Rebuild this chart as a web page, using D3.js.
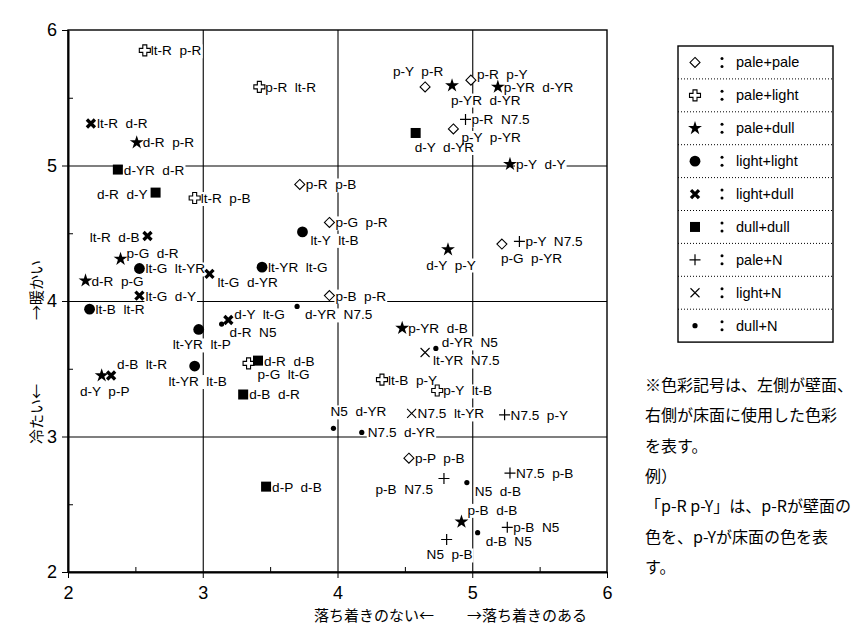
<!DOCTYPE html>
<html lang="ja">
<head>
  <meta charset="UTF-8">
  <title>配色の印象評価</title>
  <script src="https://d3js.org/d3.v7.min.js"></script>
  <style>
    body { margin: 0; background: #fff; }
    svg { display: block; }
    .lbl { font-family: "Liberation Sans", Arial, sans-serif; font-size: 13.6px; white-space: pre; }
    .note { font-family: "Noto Sans CJK JP", sans-serif; font-size: 16px; }
    .title { font-family: "Noto Sans CJK JP", sans-serif; font-size: 15px; }
  </style>
</head>
<body>
<svg width="862" height="628"></svg>
<script>
  // 軸の目盛
  const ticks = [2, 3, 4, 5, 6];
  const minorTicks = [2.5, 3.5, 4.5, 5.5];
  const gridTicks = [3, 4, 5];

  // 配色ごとの評価値 [落ち着き, 暖かさ, ラベル]
  const palePale = [
    [3.72, 4.86, "p-R  p-B"], [3.94, 4.58, "p-G  p-R"], [3.94, 4.04, "p-B  p-R"],
    [4.65, 5.58, "p-Y  p-R"], [4.99, 5.63, "p-R  p-Y"], [4.86, 5.27, "p-Y  p-YR"],
    [5.22, 4.42, "p-G  p-YR"], [4.53, 2.84, "p-P  p-B"]
  ];
  const paleLight = [
    [2.57, 5.85, "lt-R  p-R"], [3.42, 5.58, "p-R  lt-R"], [2.94, 4.76, "lt-R  p-B"],
    [3.34, 3.54, "p-G  lt-G"], [4.33, 3.42, "lt-B  p-Y"], [4.74, 3.34, "p-Y  lt-B"]
  ];
  const paleDull = [
    [2.51, 5.17, "d-R  p-R"], [2.39, 4.31, "p-G  d-R"], [2.13, 4.15, "d-R  p-G"],
    [2.25, 3.45, "d-Y  p-P"], [4.85, 5.59, "p-YR  d-YR"], [5.19, 5.58, "p-YR  d-YR"],
    [5.28, 5.01, "p-Y  d-Y"], [4.82, 4.38, "d-Y  p-Y"], [4.48, 3.80, "p-YR  d-B"],
    [4.92, 2.37, "p-B  d-B"]
  ];
  const lightLight = [
    [2.53, 4.24, "lt-G  lt-YR"], [3.44, 4.25, "lt-YR  lt-G"], [3.74, 4.51, "lt-Y  lt-B"],
    [2.16, 3.94, "lt-B  lt-R"], [2.97, 3.79, "lt-YR  lt-P"], [2.94, 3.52, "lt-YR  lt-B"]
  ];
  const lightDull = [
    [2.17, 5.31, "lt-R  d-R"], [2.59, 4.48, "lt-R  d-B"], [3.05, 4.20, "lt-G  d-YR"],
    [2.53, 4.04, "lt-G  d-Y"], [3.19, 3.86, "d-Y  lt-G"], [2.32, 3.45, "d-B  lt-R"]
  ];
  const dullDull = [
    [2.37, 4.97, "d-YR  d-R"], [2.65, 4.80, "d-R  d-Y"], [3.41, 3.56, "d-R  d-B"],
    [3.30, 3.31, "d-B  d-R"], [3.47, 2.63, "d-P  d-B"], [4.58, 5.24, "d-Y  d-YR"]
  ];
  const paleN = [
    [4.95, 5.34, "p-R  N7.5"], [5.35, 4.44, "p-Y  N7.5"], [5.24, 3.16, "N7.5  p-Y"],
    [5.28, 2.73, "N7.5  p-B"], [4.79, 2.69, "p-B  N7.5"], [5.26, 2.33, "p-B  N5"],
    [4.81, 2.24, "N5  p-B"]
  ];
  const lightN = [
    [4.65, 3.62, "lt-YR  N7.5"], [4.55, 3.17, "N7.5  lt-YR"]
  ];
  const dullN = [
    [3.14, 3.83, "d-R  N5"], [3.70, 3.96, "d-YR  N7.5"], [3.97, 3.06, "N5  d-YR"],
    [4.18, 3.03, "N7.5  d-YR"], [4.73, 3.65, "d-YR  N5"], [4.96, 2.66, "N5  d-B"],
    [5.04, 2.29, "d-B  N5"]
  ];

  const legendNames = ["pale+pale", "pale+light", "pale+dull", "light+light", "light+dull",
                       "dull+dull", "pale+N", "light+N", "dull+N"];

  const noteLines = [
    "※色彩記号は、左側が壁面、",
    "右側が床面に使用した色彩",
    "を表す。",
    "例）",
    "「p-R p-Y」は、p-Rが壁面の",
    "色を、p-Yが床面の色を表",
    "す。"
  ];

  // ラベルの置き場所（r=右, dr=右下, ur/u=右上, b=下, l=左, a=上 など）
  const labelPlace = {
    palePale:   ["r", "r", "r", "a", "ur", "dr", "bs", "r"],
    paleLight:  ["r", "r", "r", "dd", "r", "r"],
    paleDull:   ["r", "ur", "r", "b", "bs", "r", "r", "b", "r", "u"],
    lightLight: ["r", "r", "dr", "r", "b", "b"],
    lightDull:  ["r", "l", "dr", "r", "ur", "u"],
    dullDull:   ["r", "l", "r", "r", "r", "bs"],
    paleN:      ["r", "r", "r", "r", "bl", "r", "b"],
    lightN:     ["dr", "r"],
    dullN:      ["dr", "dr", "as", "r", "ur", "dr", "dr"]
  };
  const offsets = {
    r: [6, 5, "start"], ur: [6, -1, "start"], u: [6, -7, "start"], dr: [8, 13, "start"],
    dd: [9, 16, "start"], b: [3, 20, "middle"], bs: [-1, 19, "start"], bl: [-11, 15, "end"],
    l: [-8, 6, "end"], a: [-7, -11, "middle"], as: [-3, -12, "start"]
  };

  const series = [
    { key: "palePale", data: palePale, type: "diamond" },
    { key: "paleLight", data: paleLight, type: "openCross" },
    { key: "paleDull", data: paleDull, type: "star" },
    { key: "lightLight", data: lightLight, type: "circle" },
    { key: "lightDull", data: lightDull, type: "boldX" },
    { key: "dullDull", data: dullDull, type: "square" },
    { key: "paleN", data: paleN, type: "plus" },
    { key: "lightN", data: lightN, type: "times" },
    { key: "dullN", data: dullN, type: "dot" }
  ];

  const svg = d3.select("svg");
  const x = d3.scaleLinear().domain([2, 6]).range([68, 607]);
  const y = d3.scaleLinear().domain([2, 6]).range([572, 30]);
  const plotW = x(6) - x(2), plotH = y(2) - y(6);

  // 記号を描く
  function drawMarker(g, type) {
    if (type === "diamond") {
      g.append("path").attr("d", "M0,-5L5,0L0,5L-5,0Z")
        .attr("fill", "#fff").attr("stroke", "#000").attr("stroke-width", 1.1);
    } else if (type === "openCross") {
      g.append("path").attr("d", "M-2,-5.5H2V-2H5.5V2H2V5.5H-2V2H-5.5V-2H-2Z")
        .attr("fill", "#fff").attr("stroke", "#000").attr("stroke-width", 1.1);
    } else if (type === "star") {
      g.append("path").attr("d", d3.symbol(d3.symbolStar, 60)()).attr("fill", "#000");
    } else if (type === "circle") {
      g.append("circle").attr("r", 5.4).attr("fill", "#000");
    } else if (type === "boldX") {
      g.append("path").attr("d", "M-4,-4L4,4M-4,4L4,-4")
        .attr("stroke", "#000").attr("stroke-width", 3.3);
    } else if (type === "square") {
      g.append("rect").attr("x", -5).attr("y", -5).attr("width", 10).attr("height", 10).attr("fill", "#000");
    } else if (type === "plus") {
      g.append("path").attr("d", "M-5.5,0H5.5M0,-5.5V5.5")
        .attr("stroke", "#000").attr("stroke-width", 1.2);
    } else if (type === "times") {
      g.append("path").attr("d", "M-4.5,-4.5L4.5,4.5M-4.5,4.5L4.5,-4.5")
        .attr("stroke", "#000").attr("stroke-width", 1.1);
    } else if (type === "dot") {
      g.append("circle").attr("r", 2.6).attr("fill", "#000");
    }
  }

  // 格子線
  svg.append("g").attr("transform", `translate(0,${y(2)})`)
    .call(d3.axisBottom(x).tickValues(gridTicks).tickSize(-plotH).tickFormat(""))
    .call(g => g.select(".domain").remove())
    .selectAll("line").attr("stroke", "#000").attr("stroke-width", 1.1);
  svg.append("g").attr("transform", `translate(${x(2)},0)`)
    .call(d3.axisLeft(y).tickValues(gridTicks).tickSize(-plotW).tickFormat(""))
    .call(g => g.select(".domain").remove())
    .selectAll("line").attr("stroke", "#000").attr("stroke-width", 1.1);

  // 枠
  svg.append("rect").attr("x", x(2)).attr("y", y(6)).attr("width", plotW).attr("height", plotH)
    .attr("fill", "none").attr("stroke", "#000").attr("stroke-width", 1.4);

  // 軸と目盛
  const fontAxis = "'Liberation Sans', Arial, sans-serif";
  svg.append("g").attr("transform", `translate(0,${y(2)})`)
    .call(d3.axisBottom(x).tickValues(ticks).tickSize(6).tickSizeOuter(0).tickPadding(8).tickFormat(d3.format("d")))
    .attr("font-family", fontAxis).attr("font-size", 18)
    .call(g => g.select(".domain").attr("stroke-width", 2));
  svg.append("g").attr("transform", `translate(${x(2)},0)`)
    .call(d3.axisLeft(y).tickValues(ticks).tickSize(6).tickSizeOuter(0).tickPadding(5).tickFormat(d3.format("d")))
    .attr("font-family", fontAxis).attr("font-size", 18)
    .call(g => g.select(".domain").attr("stroke-width", 2));
  svg.append("g").attr("transform", `translate(0,${y(2)})`)
    .call(d3.axisBottom(x).tickValues(minorTicks).tickSize(-5).tickFormat(""))
    .call(g => g.select(".domain").remove());
  svg.append("g").attr("transform", `translate(${x(2)},0)`)
    .call(d3.axisLeft(y).tickValues(minorTicks).tickSize(-5).tickFormat(""))
    .call(g => g.select(".domain").remove());

  // 軸タイトル
  svg.append("text").attr("class", "title").attr("x", 434).attr("y", 621)
    .attr("text-anchor", "end").text("落ち着きのない←");
  svg.append("text").attr("class", "title").attr("x", 467).attr("y", 621)
    .attr("text-anchor", "start").text("→落ち着きのある");
  svg.append("text").attr("class", "title").attr("transform", "translate(35,414) rotate(-90)")
    .attr("text-anchor", "middle").attr("dominant-baseline", "central").text("冷たい←");
  svg.append("text").attr("class", "title").attr("transform", "translate(35,290) rotate(-90)")
    .attr("text-anchor", "middle").attr("dominant-baseline", "central").text("→暖かい");

  // ラベル（下に白い帯を敷いて格子線を切る）
  const labelBg = svg.append("g");
  const labels = svg.append("g");
  series.forEach(s => {
    s.data.forEach((d, i) => {
      const o = offsets[labelPlace[s.key][i]];
      const ty = y(d[1]) + o[1];
      const t = labels.append("text").attr("class", "lbl")
        .attr("x", x(d[0]) + o[0]).attr("y", ty)
        .attr("text-anchor", o[2])
        .attr("fill", "#000")
        .text(d[2]);
      const bb = t.node().getBBox();
      labelBg.append("rect")
        .attr("x", bb.x - 1).attr("y", ty - 11).attr("width", bb.width + 2).attr("height", 14)
        .attr("fill", "#fff");
    });
  });

  // 記号
  series.forEach(s => {
    s.data.forEach(d => {
      const g = svg.append("g").attr("transform", `translate(${x(d[0])},${y(d[1])})`);
      drawMarker(g, s.type);
    });
  });

  // 凡例
  const rowH = 32.9;
  const legend = svg.append("g").attr("transform", "translate(678,46)");
  legend.append("rect").attr("width", 155).attr("height", rowH * 9)
    .attr("fill", "#fff").attr("stroke", "#000").attr("stroke-width", 1.4);
  series.forEach((s, i) => {
    const cy = rowH * i + rowH / 2;
    if (i > 0) {
      legend.append("line").attr("x1", 0).attr("x2", 155).attr("y1", rowH * i).attr("y2", rowH * i)
        .attr("stroke", "#000").attr("stroke-width", 1).attr("stroke-dasharray", "1,2");
    }
    drawMarker(legend.append("g").attr("transform", `translate(17,${cy})`), s.type);
    legend.append("circle").attr("cx", 44).attr("cy", cy - 4).attr("r", 1.5);
    legend.append("circle").attr("cx", 44).attr("cy", cy + 4).attr("r", 1.5);
    legend.append("text").attr("x", 58).attr("y", cy + 5)
      .attr("font-family", fontAxis).attr("font-size", 14.5)
      .text(legendNames[i]);
  });

  // 注記
  svg.append("g").selectAll("text").data(noteLines).join("text")
    .attr("class", "note").attr("x", 645).attr("y", (d, i) => 391 + i * 30.3)
    .text(d => d);
</script>
</body>
</html>
